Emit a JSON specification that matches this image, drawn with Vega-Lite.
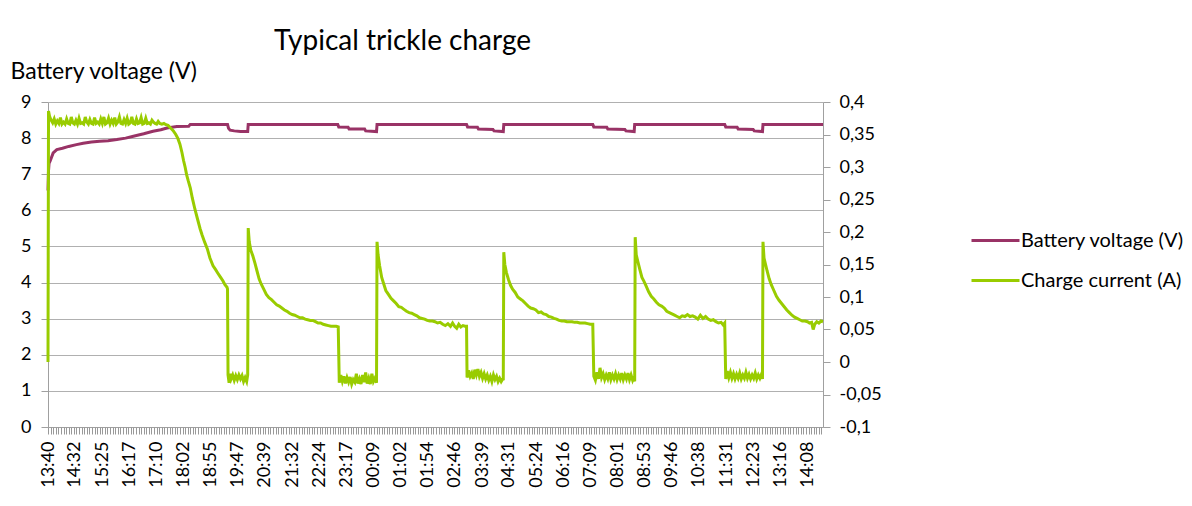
{
 "$schema": "https://vega.github.io/schema/vega-lite/v6.json",
 "width": 775,
 "height": 325,
 "autosize": {"type": "none"},
 "padding": {"left": 48, "top": 102, "right": 369, "bottom": 79},
 "background": "white",
 "config": {
  "font": "Lato",
  "view": {"stroke": null},
  "axis": {"labelFont": "Lato", "titleFont": "Lato", "labelColor": "black", "titleColor": "black"},
  "legend": {"labelFont": "Lato", "labelColor": "black"}
 },
 "title": {"text": "Typical trickle charge", "fontSize": 28, "fontWeight": "normal", "font": "Lato", "color": "black", "anchor": "middle", "dx": -33, "offset": 4},
 "datasets": {
  "voltage": [
   {"t":0,"v":6.55},{"t":1,"v":7.1},{"t":2,"v":7.3},{"t":4,"v":7.36},{"t":10,"v":7.59},{"t":17,"v":7.68},{"t":28,"v":7.72},{"t":40,"v":7.77},{"t":55,"v":7.82},{"t":68,"v":7.86},{"t":84,"v":7.89},{"t":100,"v":7.91},{"t":116,"v":7.93},{"t":133,"v":7.96},{"t":150,"v":8.0},{"t":165,"v":8.05},{"t":185,"v":8.12},{"t":203,"v":8.19},{"t":218,"v":8.23},{"t":230,"v":8.28},{"t":249,"v":8.32},{"t":272,"v":8.33},{"t":275,"v":8.38},
   {"t":347,"v":8.38},{"t":349,"v":8.27},{"t":352,"v":8.22},{"t":360,"v":8.2},{"t":372,"v":8.18},{"t":386,"v":8.18},{"t":387,"v":8.38},
   {"t":560,"v":8.38},{"t":562,"v":8.31},{"t":580,"v":8.3},{"t":582,"v":8.25},{"t":612,"v":8.25},{"t":614,"v":8.2},{"t":635,"v":8.18},{"t":636,"v":8.38},
   {"t":809,"v":8.38},{"t":811,"v":8.31},{"t":830,"v":8.3},{"t":832,"v":8.25},{"t":860,"v":8.24},{"t":862,"v":8.2},{"t":880,"v":8.18},{"t":881,"v":8.38},
   {"t":1053,"v":8.38},{"t":1055,"v":8.31},{"t":1080,"v":8.3},{"t":1082,"v":8.25},{"t":1115,"v":8.24},{"t":1117,"v":8.2},{"t":1133,"v":8.18},{"t":1134,"v":8.38},
   {"t":1308,"v":8.38},{"t":1310,"v":8.31},{"t":1332,"v":8.3},{"t":1334,"v":8.25},{"t":1363,"v":8.24},{"t":1365,"v":8.2},{"t":1381,"v":8.18},{"t":1382,"v":8.38},
   {"t":1498,"v":8.38}
  ],
  "current": [
   {"t":0,"c":0.0},{"t":1,"c":0.386},{"t":3,"c":0.378},{"t":6,"c":0.372},{"t":9,"c":0.368},{"t":12,"c":0.374},{"t":15,"c":0.366},{"t":18,"c":0.371},{"t":21,"c":0.367},{"t":24,"c":0.376},{"t":27,"c":0.366},{"t":30,"c":0.369},{"t":33,"c":0.366},{"t":36,"c":0.374},{"t":39,"c":0.367},{"t":42,"c":0.366},{"t":45,"c":0.377},{"t":48,"c":0.368},{"t":51,"c":0.366},{"t":54,"c":0.372},{"t":57,"c":0.366},{"t":60,"c":0.375},{"t":63,"c":0.367},{"t":66,"c":0.368},{"t":69,"c":0.366},{"t":72,"c":0.377},{"t":75,"c":0.369},{"t":78,"c":0.366},{"t":81,"c":0.373},{"t":84,"c":0.367},{"t":87,"c":0.366},{"t":90,"c":0.376},{"t":93,"c":0.367},{"t":96,"c":0.369},{"t":99,"c":0.366},{"t":102,"c":0.374},{"t":105,"c":0.367},{"t":108,"c":0.377},{"t":111,"c":0.366},{"t":114,"c":0.368},{"t":117,"c":0.375},{"t":120,"c":0.366},{"t":123,"c":0.372},{"t":126,"c":0.367},{"t":129,"c":0.376},{"t":132,"c":0.366},{"t":135,"c":0.369},{"t":138,"c":0.377},{"t":141,"c":0.367},{"t":144,"c":0.366},{"t":147,"c":0.373},{"t":150,"c":0.367},{"t":153,"c":0.375},{"t":156,"c":0.366},{"t":159,"c":0.368},{"t":162,"c":0.377},{"t":165,"c":0.367},{"t":168,"c":0.366},{"t":171,"c":0.374},{"t":174,"c":0.367},{"t":177,"c":0.368},{"t":180,"c":0.376},{"t":183,"c":0.366},{"t":186,"c":0.367},{"t":189,"c":0.375},{"t":192,"c":0.367},{"t":195,"c":0.368},{"t":198,"c":0.366},{"t":201,"c":0.372},{"t":204,"c":0.369},{"t":207,"c":0.367},{"t":210,"c":0.366},{"t":213,"c":0.37},{"t":216,"c":0.367},{"t":220,"c":0.366},{"t":224,"c":0.367},{"t":228,"c":0.365},{"t":232,"c":0.364},{"t":237,"c":0.36},{"t":242,"c":0.356},{"t":247,"c":0.35},{"t":251,"c":0.344},{"t":255,"c":0.335},{"t":259,"c":0.322},{"t":262,"c":0.31},{"t":265,"c":0.3},{"t":268,"c":0.288},{"t":271,"c":0.279},{"t":275,"c":0.268},{"t":279,"c":0.252},{"t":284,"c":0.235},{"t":289,"c":0.22},{"t":294,"c":0.205},{"t":298,"c":0.195},{"t":303,"c":0.184},{"t":308,"c":0.174},{"t":313,"c":0.16},{"t":319,"c":0.148},{"t":324,"c":0.142},{"t":328,"c":0.137},{"t":333,"c":0.131},{"t":338,"c":0.125},{"t":342,"c":0.119},{"t":346,"c":0.115},{"t":347,"c":0.112},
   {"t":348,"c":-0.02},{"t":350,"c":-0.032},{"t":352,"c":-0.018},{"t":354,"c":-0.026},{"t":357,"c":-0.02},{"t":360,"c":-0.028},{"t":363,"c":-0.021},{"t":366,"c":-0.027},{"t":369,"c":-0.02},{"t":372,"c":-0.026},{"t":375,"c":-0.021},{"t":378,"c":-0.03},{"t":381,"c":-0.024},{"t":384,"c":-0.03},{"t":386,"c":-0.02},
   {"t":387,"c":0.206},{"t":389,"c":0.185},{"t":392,"c":0.172},{"t":396,"c":0.163},{"t":400,"c":0.152},{"t":404,"c":0.14},{"t":408,"c":0.128},{"t":412,"c":0.12},{"t":417,"c":0.112},{"t":422,"c":0.104},{"t":427,"c":0.099},{"t":432,"c":0.096},{"t":437,"c":0.092},{"t":442,"c":0.088},{"t":447,"c":0.086},{"t":452,"c":0.083},{"t":457,"c":0.08},{"t":462,"c":0.078},{"t":467,"c":0.075},{"t":472,"c":0.073},{"t":477,"c":0.072},{"t":482,"c":0.07},{"t":487,"c":0.068},{"t":492,"c":0.068},{"t":497,"c":0.066},{"t":502,"c":0.065},{"t":507,"c":0.064},{"t":512,"c":0.064},{"t":517,"c":0.062},{"t":522,"c":0.06},{"t":527,"c":0.06},{"t":532,"c":0.058},{"t":537,"c":0.057},{"t":542,"c":0.056},{"t":547,"c":0.055},{"t":552,"c":0.055},{"t":557,"c":0.055},{"t":561,"c":0.054},
   {"t":563,"c":-0.032},{"t":566,"c":-0.02},{"t":569,"c":-0.03},{"t":572,"c":-0.022},{"t":575,"c":-0.033},{"t":578,"c":-0.024},{"t":581,"c":-0.031},{"t":584,"c":-0.023},{"t":587,"c":-0.034},{"t":590,"c":-0.027},{"t":593,"c":-0.031},{"t":596,"c":-0.018},{"t":599,"c":-0.033},{"t":602,"c":-0.026},{"t":605,"c":-0.034},{"t":608,"c":-0.02},{"t":611,"c":-0.031},{"t":614,"c":-0.016},{"t":617,"c":-0.033},{"t":620,"c":-0.025},{"t":623,"c":-0.034},{"t":626,"c":-0.018},{"t":629,"c":-0.03},{"t":632,"c":-0.025},{"t":635,"c":-0.032},
   {"t":636,"c":0.185},{"t":638,"c":0.165},{"t":641,"c":0.148},{"t":645,"c":0.13},{"t":649,"c":0.12},{"t":653,"c":0.11},{"t":658,"c":0.104},{"t":663,"c":0.098},{"t":668,"c":0.094},{"t":673,"c":0.09},{"t":678,"c":0.085},{"t":683,"c":0.084},{"t":688,"c":0.081},{"t":693,"c":0.078},{"t":698,"c":0.076},{"t":703,"c":0.075},{"t":708,"c":0.073},{"t":713,"c":0.071},{"t":718,"c":0.068},{"t":723,"c":0.067},{"t":728,"c":0.066},{"t":733,"c":0.064},{"t":738,"c":0.063},{"t":743,"c":0.063},{"t":748,"c":0.062},{"t":753,"c":0.06},{"t":758,"c":0.061},{"t":763,"c":0.058},{"t":768,"c":0.056},{"t":773,"c":0.059},{"t":778,"c":0.055},{"t":782,"c":0.06},{"t":786,"c":0.055},{"t":790,"c":0.052},{"t":794,"c":0.058},{"t":798,"c":0.054},{"t":802,"c":0.056},{"t":806,"c":0.055},{"t":809,"c":0.055},
   {"t":810,"c":-0.024},{"t":813,"c":-0.013},{"t":816,"c":-0.022},{"t":819,"c":-0.017},{"t":822,"c":-0.026},{"t":825,"c":-0.012},{"t":828,"c":-0.02},{"t":831,"c":-0.011},{"t":834,"c":-0.022},{"t":837,"c":-0.016},{"t":840,"c":-0.025},{"t":843,"c":-0.018},{"t":846,"c":-0.026},{"t":849,"c":-0.02},{"t":852,"c":-0.028},{"t":855,"c":-0.022},{"t":858,"c":-0.03},{"t":861,"c":-0.02},{"t":864,"c":-0.027},{"t":867,"c":-0.022},{"t":870,"c":-0.03},{"t":873,"c":-0.025},{"t":876,"c":-0.03},{"t":879,"c":-0.026},{"t":880,"c":-0.028},
   {"t":881,"c":0.169},{"t":883,"c":0.15},{"t":886,"c":0.138},{"t":890,"c":0.127},{"t":894,"c":0.118},{"t":898,"c":0.112},{"t":903,"c":0.107},{"t":908,"c":0.1},{"t":913,"c":0.097},{"t":918,"c":0.094},{"t":923,"c":0.09},{"t":928,"c":0.086},{"t":933,"c":0.083},{"t":938,"c":0.082},{"t":943,"c":0.08},{"t":948,"c":0.076},{"t":953,"c":0.077},{"t":958,"c":0.074},{"t":963,"c":0.073},{"t":968,"c":0.07},{"t":973,"c":0.069},{"t":978,"c":0.067},{"t":983,"c":0.066},{"t":988,"c":0.064},{"t":993,"c":0.063},{"t":998,"c":0.063},{"t":1003,"c":0.062},{"t":1008,"c":0.062},{"t":1013,"c":0.062},{"t":1018,"c":0.061},{"t":1023,"c":0.061},{"t":1028,"c":0.06},{"t":1033,"c":0.06},{"t":1038,"c":0.06},{"t":1043,"c":0.059},{"t":1048,"c":0.058},{"t":1053,"c":0.058},
   {"t":1055,"c":-0.022},{"t":1058,"c":-0.028},{"t":1061,"c":-0.016},{"t":1064,"c":-0.026},{"t":1067,"c":-0.009},{"t":1070,"c":-0.024},{"t":1073,"c":-0.018},{"t":1076,"c":-0.027},{"t":1079,"c":-0.02},{"t":1082,"c":-0.026},{"t":1085,"c":-0.016},{"t":1088,"c":-0.027},{"t":1091,"c":-0.02},{"t":1094,"c":-0.026},{"t":1097,"c":-0.018},{"t":1100,"c":-0.027},{"t":1103,"c":-0.02},{"t":1106,"c":-0.026},{"t":1109,"c":-0.017},{"t":1112,"c":-0.027},{"t":1115,"c":-0.02},{"t":1118,"c":-0.026},{"t":1121,"c":-0.017},{"t":1124,"c":-0.027},{"t":1127,"c":-0.02},{"t":1130,"c":-0.028},{"t":1133,"c":-0.022},{"t":1134,"c":-0.03},
   {"t":1135,"c":0.192},{"t":1137,"c":0.165},{"t":1140,"c":0.155},{"t":1144,"c":0.142},{"t":1148,"c":0.13},{"t":1152,"c":0.124},{"t":1156,"c":0.117},{"t":1161,"c":0.108},{"t":1166,"c":0.101},{"t":1171,"c":0.097},{"t":1176,"c":0.092},{"t":1181,"c":0.088},{"t":1186,"c":0.086},{"t":1191,"c":0.083},{"t":1196,"c":0.078},{"t":1201,"c":0.076},{"t":1206,"c":0.074},{"t":1211,"c":0.072},{"t":1216,"c":0.07},{"t":1221,"c":0.068},{"t":1226,"c":0.071},{"t":1231,"c":0.07},{"t":1236,"c":0.073},{"t":1241,"c":0.07},{"t":1246,"c":0.071},{"t":1251,"c":0.069},{"t":1256,"c":0.066},{"t":1261,"c":0.072},{"t":1266,"c":0.067},{"t":1271,"c":0.07},{"t":1276,"c":0.066},{"t":1281,"c":0.064},{"t":1286,"c":0.065},{"t":1291,"c":0.062},{"t":1296,"c":0.06},{"t":1301,"c":0.061},{"t":1305,"c":0.057},{"t":1308,"c":0.06},
   {"t":1310,"c":-0.026},{"t":1313,"c":-0.014},{"t":1316,"c":-0.024},{"t":1319,"c":-0.016},{"t":1322,"c":-0.025},{"t":1325,"c":-0.018},{"t":1328,"c":-0.026},{"t":1331,"c":-0.019},{"t":1334,"c":-0.025},{"t":1337,"c":-0.017},{"t":1340,"c":-0.026},{"t":1343,"c":-0.02},{"t":1346,"c":-0.025},{"t":1349,"c":-0.016},{"t":1352,"c":-0.025},{"t":1355,"c":-0.019},{"t":1358,"c":-0.026},{"t":1361,"c":-0.02},{"t":1364,"c":-0.025},{"t":1367,"c":-0.017},{"t":1370,"c":-0.026},{"t":1373,"c":-0.02},{"t":1376,"c":-0.025},{"t":1379,"c":-0.019},{"t":1381,"c":-0.026},
   {"t":1382,"c":0.185},{"t":1384,"c":0.16},{"t":1387,"c":0.15},{"t":1390,"c":0.14},{"t":1394,"c":0.128},{"t":1398,"c":0.119},{"t":1403,"c":0.11},{"t":1408,"c":0.101},{"t":1413,"c":0.095},{"t":1418,"c":0.09},{"t":1423,"c":0.085},{"t":1428,"c":0.08},{"t":1433,"c":0.076},{"t":1438,"c":0.072},{"t":1443,"c":0.069},{"t":1448,"c":0.067},{"t":1453,"c":0.065},{"t":1458,"c":0.063},{"t":1463,"c":0.063},{"t":1468,"c":0.062},{"t":1472,"c":0.06},{"t":1476,"c":0.061},{"t":1479,"c":0.05},{"t":1482,"c":0.058},{"t":1486,"c":0.062},{"t":1490,"c":0.06},{"t":1494,"c":0.063},{"t":1498,"c":0.062}
  ]
 },
 "layer": [
  {
   "data": {"name": "voltage"},
   "mark": {"type": "line", "strokeWidth": 3},
   "encoding": {
    "x": {"field": "t", "type": "quantitative",
     "scale": {"domain": [0, 1498], "nice": false, "zero": false},
     "axis": {"orient": "bottom", "title": null, "grid": false, "ticks": false,
      "values": [0,52,105,157,210,262,315,367,419,472,524,577,629,682,734,786,839,891,944,996,1049,1101,1153,1206,1258,1311,1363,1416,1468],
      "labelExpr": "pad(toString(floor(((820 + datum.value) % 1440) / 60)), 2, '0', 'left') + ':' + pad(toString((820 + datum.value) % 60), 2, '0', 'left')",
      "labelAngle": 270, "labelFontSize": 18, "labelPadding": 14, "labelFlush": false, "labelOverlap": false,
      "domain": true, "domainColor": "#a0a0a0"}},
    "y": {"field": "v", "type": "quantitative",
     "scale": {"domain": [0, 9], "nice": false, "zero": false},
     "axis": {"orient": "left", "values": [0,1,2,3,4,5,6,7,8,9], "grid": true, "gridColor": "#b0b0b0",
      "domainColor": "#a0a0a0", "tickColor": "#a0a0a0", "tickSize": 7, "labelFontSize": 18, "labelPadding": 10,
      "title": "Battery voltage (V)", "titleAngle": 0, "titleAlign": "left", "titleX": -38, "titleY": -24,
      "titleBaseline": "alphabetic", "titleFontSize": 23, "titleFontWeight": "normal"}},
    "color": {"datum": "Battery voltage (V)", "type": "nominal",
     "scale": {"domain": ["Battery voltage (V)", "Charge current (A)"], "range": ["#993366", "#99cc00"]},
     "legend": {"orient": "none", "legendX": 922, "legendY": 113, "title": null, "symbolType": "stroke",
      "symbolSize": 2304, "symbolStrokeWidth": 3, "labelFontSize": 20, "labelOffset": 0, "labelLimit": 400, "rowPadding": 4}}
   }
  },
  {
   "data": {"name": "current"},
   "mark": {"type": "line", "strokeWidth": 3},
   "encoding": {
    "x": {"field": "t", "type": "quantitative",
     "axis": {"orient": "bottom", "title": null, "grid": false, "labels": false, "domain": false,
      "tickCount": 300, "tickColor": "#999999", "tickSize": 7}},
    "y": {"field": "c", "type": "quantitative",
     "scale": {"domain": [-0.1, 0.4], "nice": false, "zero": false},
     "axis": {"orient": "right", "values": [-0.1,-0.05,0,0.05,0.1,0.15,0.2,0.25,0.3,0.35,0.4],
      "labelExpr": "replace(toString(round(datum.value * 100) / 100), '.', ',')",
      "grid": false, "domainColor": "#a0a0a0", "tickColor": "#a0a0a0", "tickSize": 7,
      "labelFontSize": 18, "labelPadding": 9, "title": null}},
    "color": {"datum": "Charge current (A)", "type": "nominal"}
   }
  }
 ],
 "resolve": {"scale": {"y": "independent"}, "axis": {"x": "independent"}}
}
